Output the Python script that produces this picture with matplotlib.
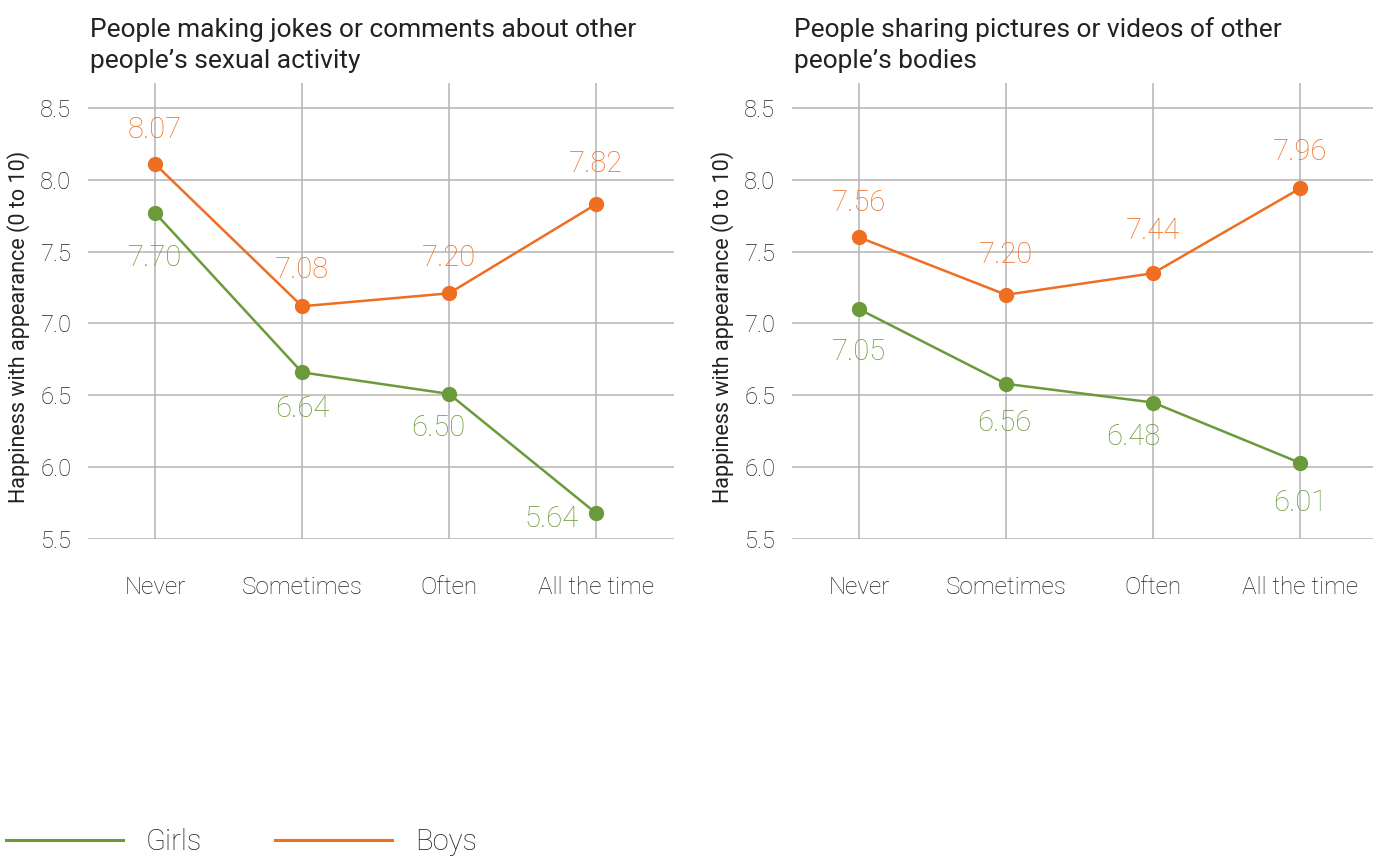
import matplotlib.pyplot as plt
from matplotlib.lines import Line2D

# categories on the x axis
categories = ['Never', 'Sometimes', 'Often', 'All the time']

# left panel: jokes / comments about sexual activity
jokes_girls = [7.77, 6.66, 6.51, 5.68]
jokes_boys = [8.11, 7.12, 7.21, 7.83]
jokes_girls_labels = ['7.70', '6.64', '6.50', '5.64']
jokes_boys_labels = ['8.07', '7.08', '7.20', '7.82']

# right panel: sharing pictures / videos of bodies
pics_girls = [7.10, 6.58, 6.45, 6.03]
pics_boys = [7.60, 7.20, 7.35, 7.94]
pics_girls_labels = ['7.05', '6.56', '6.48', '6.01']
pics_boys_labels = ['7.56', '7.20', '7.44', '7.96']

titles = ['People making jokes or comments about other\npeople\u2019s sexual activity',
          'People sharing pictures or videos of other\npeople\u2019s bodies']

GREEN = '#6B9A3A'
ORANGE = '#EE6E22'
TEXT = '#222222'

plt.rcParams['font.family'] = ['Roboto', 'DejaVu Sans']
plt.rcParams['font.weight'] = 'light'

fig = plt.figure(figsize=(13.73, 8.56), dpi=100)
W, H = 1373, 856

def add_panel(left, right, title, girls, boys, g_labels, b_labels, g_off, b_off):
    ax = fig.add_axes([left / W, 1 - 539 / H, (right - left) / W, (539 - 83) / H])
    x = range(len(categories))
    ax.plot(x, girls, color=GREEN, lw=1.8, marker='o', ms=10)
    ax.plot(x, boys, color=ORANGE, lw=1.8, marker='o', ms=10)
    for i in x:
        ax.annotate(g_labels[i], (i, girls[i]), xytext=g_off[i], textcoords='offset pixels',
                    ha='center', va='center', color=GREEN, fontsize=21, fontweight='light')
        ax.annotate(b_labels[i], (i, boys[i]), xytext=b_off[i], textcoords='offset pixels',
                    ha='center', va='center', color=ORANGE, fontsize=21, fontweight='light')
    ax.set_xlim(-0.456, -0.456 + (right - left) / 147)
    ax.set_ylim(5.5, 8.674)
    ax.set_yticks([5.5, 6.0, 6.5, 7.0, 7.5, 8.0, 8.5])
    ax.set_yticklabels(['5.5', '6.0', '6.5', '7.0', '7.5', '8.0', '8.5'])
    ax.set_xticks(list(x))
    ax.set_xticklabels(categories)
    ax.grid(True, color='#b4b4b4', lw=1.1)
    ax.set_axisbelow(True)
    for s in ax.spines.values():
        s.set_visible(False)
    ax.tick_params(length=0, labelsize=17, colors=TEXT, pad=12)
    ax.tick_params(axis='x', pad=27, labelsize=17.5)
    ax.set_ylabel('Happiness with appearance (0 to 10)', fontsize=15.5, color=TEXT)
    ax.yaxis.set_label_coords(-58 / (right - left), 0.465)
    ax.set_title(title, loc='left', fontsize=19, color=TEXT, pad=11, x=0.004,
                 linespacing=1.38)
    return ax

ax1 = add_panel(88, 674, titles[0], jokes_girls, jokes_boys,
                jokes_girls_labels, jokes_boys_labels,
                [(0, -45), (0, -37), (-11, -34), (-44, -6)],
                [(0, 34), (0, 36), (0, 35), (0, 40)])
ax2 = add_panel(792, 1373, titles[1], pics_girls, pics_boys,
                pics_girls_labels, pics_boys_labels,
                [(0, -43), (-2, -39), (-20, -34), (0, -40)],
                [(0, 34), (0, 40), (0, 42), (0, 36)])

handles = [Line2D([], [], color=GREEN, lw=2.2), Line2D([], [], color=ORANGE, lw=2.2)]
fig.legend(handles, ['Girls', 'Boys'], loc='lower left', bbox_to_anchor=(6 / W, 0.0),
           ncol=2, frameon=False, handlelength=4.0, handletextpad=0.8, columnspacing=2.5,
           borderpad=0, borderaxespad=0, fontsize=21, labelcolor=TEXT)

fig.savefig('out.png', dpi=100)
